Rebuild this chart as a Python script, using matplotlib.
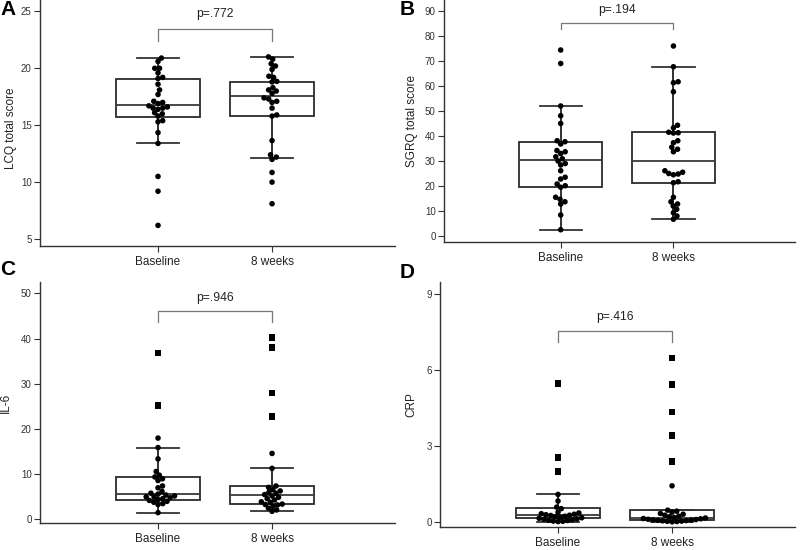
import numpy as np
import matplotlib.pyplot as plt

plt.rcParams['font.family'] = ['Liberation Sans', 'DejaVu Sans']

# ---- data ----
groups = ["Baseline", "8 weeks"]

# A: LCQ total score
lcq_base = [20.9, 20.6, 20.0, 20.0, 19.6, 19.2, 19.1, 18.6, 18.1, 17.7, 17.1, 17.0, 16.9, 16.7,
            16.6, 16.5, 16.5, 16.4, 16.1, 16.0, 15.8, 15.4, 15.3, 14.35, 13.4, 10.5, 9.2, 6.2]
lcq_week = [21.0, 20.8, 20.4, 20.2, 19.9, 19.3, 19.2, 18.85, 18.8, 18.3, 18.1, 18.0, 17.8, 17.4,
            17.3, 17.1, 17.0, 16.5, 15.9, 15.8, 13.65, 12.4, 12.2, 12.0, 10.85, 10.0, 8.1]
lcq_box = [(15.7, 16.75, 19.1, 13.4, 20.9), (15.8, 17.55, 18.8, 12.1, 21.0)]  # q1, med, q3, lo, hi

# B: SGRQ total score
sgrq_base = [74.4, 69.0, 52.0, 48.1, 45.0, 38.1, 37.7, 36.8, 34.2, 33.7, 33.0, 31.7, 30.9, 30.0,
             29.0, 28.4, 26.1, 23.5, 22.8, 20.8, 20.1, 19.5, 15.5, 14.7, 13.7, 12.8, 8.4, 2.5]
sgrq_week = [76.0, 67.7, 61.7, 61.3, 57.7, 44.3, 43.3, 41.5, 41.3, 41.2, 38.1, 37.3, 35.5, 34.7, 33.7,
             26.1, 25.5, 25.0, 24.8, 24.5, 21.7, 21.3, 15.5, 13.7, 12.8, 12.0, 10.7, 9.3, 8.0, 6.7]
sgrq_box = [(19.5, 30.5, 37.8, 2.5, 52.0), (21.0, 30.0, 41.5, 6.7, 67.7)]

# C: IL-6 (squares = outliers)
il6_base = [18.0, 15.9, 13.4, 10.6, 9.8, 9.4, 9.0, 8.6, 7.4, 7.0, 6.2, 5.8, 5.6, 5.4, 5.2, 5.0,
            5.0, 4.8, 4.6, 4.4, 4.2, 4.0, 3.8, 3.5, 3.3, 1.5]
il6_base_out = [36.8, 25.2]
il6_week = [14.6, 11.3, 7.4, 7.1, 6.6, 6.3, 6.0, 5.8, 5.5, 5.2, 4.9, 4.6, 4.3, 3.9, 3.8, 3.4,
            3.3, 3.2, 2.9, 2.5, 2.1, 1.8]
il6_week_out = [40.2, 38.0, 28.0, 22.8]
il6_box = [(4.2, 5.6, 9.4, 1.5, 15.9), (3.5, 5.3, 7.3, 1.8, 11.3)]

# D: CRP
crp_base = [1.08, 0.82, 0.58, 0.52, 0.38, 0.35, 0.32, 0.30, 0.28, 0.26, 0.25, 0.22, 0.20, 0.18,
            0.16, 0.14, 0.12, 0.10, 0.08, 0.06, 0.05, 0.03, 0.02, 0.01]
crp_base_out = [5.45, 2.53, 1.98]
crp_week = [1.42, 0.46, 0.42, 0.38, 0.33, 0.30, 0.26, 0.22, 0.20, 0.17, 0.15, 0.13, 0.12, 0.10,
            0.09, 0.08, 0.07, 0.06, 0.05, 0.04, 0.03, 0.02, 0.01, 0.0]
crp_week_out = [6.45, 5.42, 4.33, 3.40, 2.37]
crp_box = [(0.14, 0.26, 0.53, 0.01, 1.08), (0.08, 0.16, 0.45, 0.0, 0.48)]

p_values = ["p=.772", "p=.194", "p=.946", "p=.416"]


def swarm_x(vals, center, ax, diam=4.8):
    # simple beeswarm: place each point as close to the centre as possible
    vals = np.asarray(vals, float)
    bb = ax.get_window_extent()
    x0, x1 = ax.get_xlim()
    y0, y1 = ax.get_ylim()
    sx = bb.width / (x1 - x0)
    sy = bb.height / (y1 - y0)
    placed = []
    out = np.zeros(len(vals))
    for i in np.argsort(vals):
        y = vals[i] * sy
        cands = [0.0]
        for px, py in placed:
            dy = y - py
            if abs(dy) < diam:
                dx = np.sqrt(diam ** 2 - dy ** 2)
                cands += [px + dx, px - dx]
        cands.sort(key=abs)
        for c in cands:
            if all((c - px) ** 2 + (y - py) ** 2 >= diam ** 2 - 1e-6 for px, py in placed):
                break
        placed.append((c, y))
        out[i] = center + c / sx
    return out


fig = plt.figure(figsize=(8, 5.5), dpi=100)

panels = [
    dict(rect=[0.05, 0.553, 0.444, 0.447], ylim=(4.4, 26.0), yticks=[5, 10, 15, 20, 25],
         ylabel="LCQ total score", data=[lcq_base, lcq_week], out=[[], []], box=lcq_box,
         br=(22.4, 23.45, 24.8), lab=(-0.066, 0.48)),
    dict(rect=[0.555, 0.56, 0.439, 0.44], ylim=(-2.4, 94.4), yticks=list(range(0, 91, 10)),
         ylabel="SGRQ total score", data=[sgrq_base, sgrq_week], out=[[], []], box=sgrq_box,
         br=(82.7, 85.3, 90.4), lab=(-0.073, 0.5)),
    dict(rect=[0.05, 0.049, 0.444, 0.438], ylim=(-0.8, 52.5), yticks=[0, 10, 20, 30, 40, 50],
         ylabel="IL-6", data=[il6_base, il6_week], out=[il6_base_out, il6_week_out], box=il6_box,
         br=(43.7, 46.1, 49.0), lab=(-0.08, 0.5)),
    dict(rect=[0.55, 0.042, 0.444, 0.445], ylim=(-0.2, 9.45), yticks=[0, 3, 6, 9],
         ylabel="CRP", data=[crp_base, crp_week], out=[crp_base_out, crp_week_out], box=crp_box,
         br=(7.09, 7.52, 8.07), lab=(-0.065, 0.5)),
]

for k, p in enumerate(panels):
    ax = fig.add_axes(p["rect"])
    ax.set_xlim(-0.035, 3.08)
    ax.set_ylim(*p["ylim"])

    stats = [dict(q1=b[0], med=b[1], q3=b[2], whislo=b[3], whishi=b[4], fliers=[]) for b in p["box"]]
    ax.bxp(stats, positions=[1, 2], widths=0.74, capwidths=0.375, patch_artist=True,
           showfliers=False,
           boxprops=dict(facecolor="white", edgecolor="#2b2b2b", linewidth=1.3),
           medianprops=dict(color="#3a3a3a", linewidth=1.3),
           whiskerprops=dict(color="#222", linewidth=1.3),
           capprops=dict(color="#333", linewidth=1.3), zorder=2)

    for j, vals in enumerate(p["data"]):
        xs = swarm_x(vals, j + 1, ax)
        ax.scatter(xs, vals, s=16, color="black", edgecolors="none", zorder=3)
        if p["out"][j]:
            xo = np.full(len(p["out"][j]), j + 1.0)
            ax.scatter(xo, p["out"][j], s=22, marker="s", color="black", edgecolors="none", zorder=3)

    lo, hi, ty = p["br"]
    ax.plot([1, 1, 2, 2], [lo, hi, hi, lo], color="#777777", lw=0.9, zorder=1)
    ax.text(1.5, ty, p_values[k], ha="center", va="center", fontsize=8.7, color="#222")

    ax.set_xticks([1, 2])
    ax.set_xticklabels(groups, fontsize=8.5, color="#222")
    ax.set_yticks(p["yticks"])
    ax.tick_params(axis="y", labelsize=7, colors="#333", length=4, width=0.8, pad=2)
    ax.tick_params(axis="x", colors="#333", length=4, width=0.8, pad=3)
    for t in ax.get_xticklabels():
        t.set_color("#222")
    ax.set_ylabel(p["ylabel"], fontsize=8.5, color="#222")
    ax.yaxis.set_label_coords(*p["lab"])
    for s in ["top", "right"]:
        ax.spines[s].set_visible(False)
    for s in ["left", "bottom"]:
        ax.spines[s].set_color("#333")
        ax.spines[s].set_linewidth(1.0)

for letter, x, y in [("A", 0.0, 0.982), ("B", 0.5, 0.982), ("C", 0.0, 0.51), ("D", 0.5, 0.505)]:
    fig.text(x, y, letter, fontsize=15, fontweight="bold", va="center", ha="left")

fig.savefig("out.png", dpi=100)
